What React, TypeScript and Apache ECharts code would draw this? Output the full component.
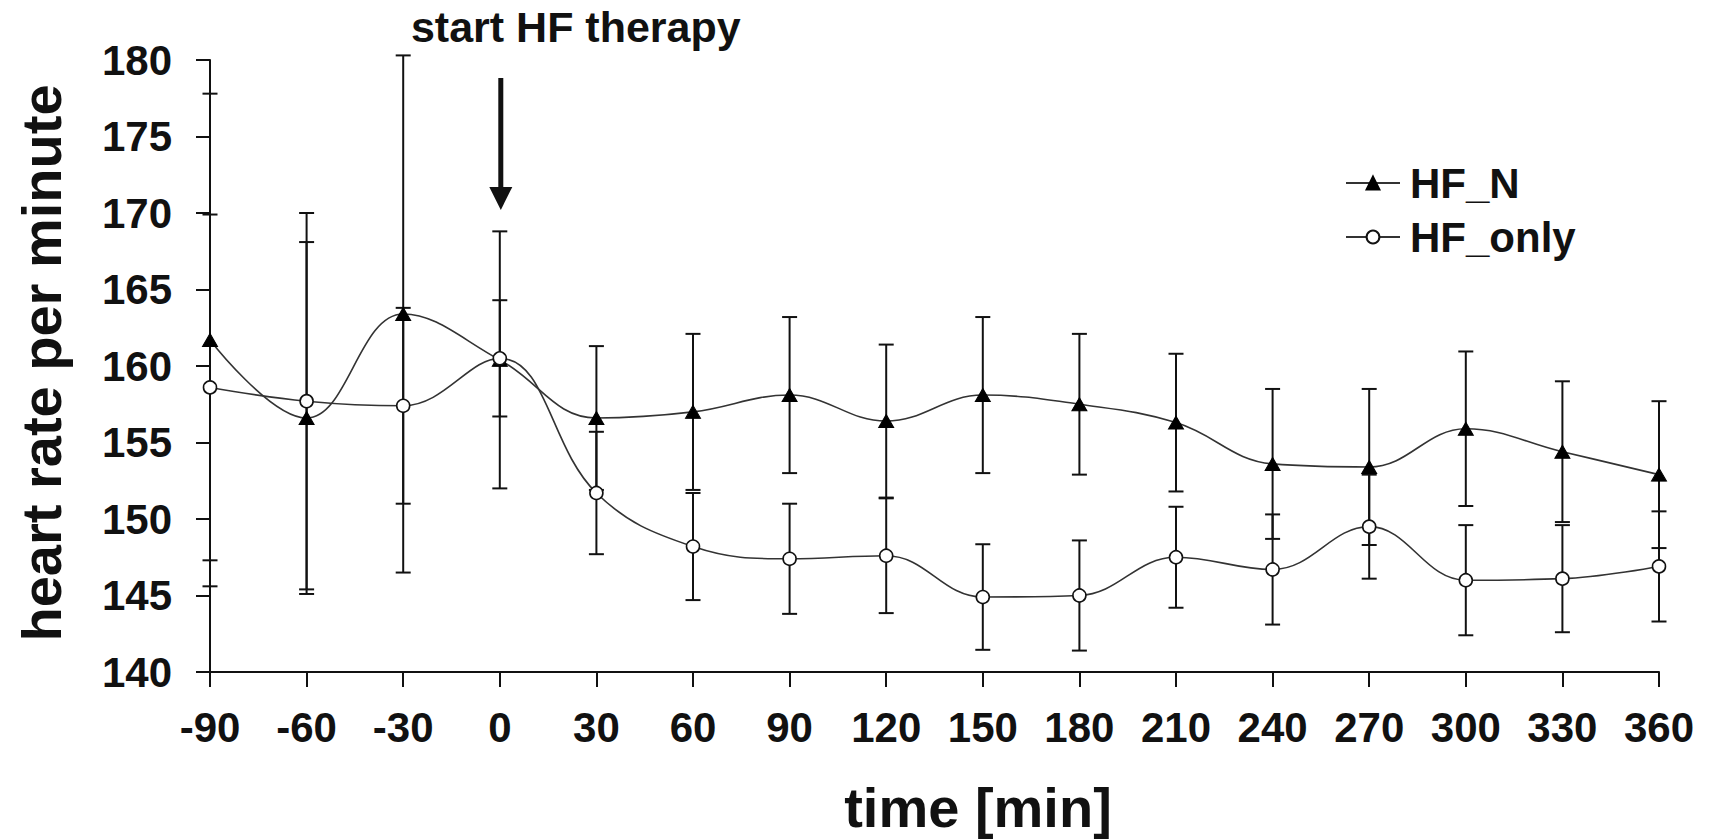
import React, { useEffect, useRef } from "react";
import * as echarts from "echarts";

const timeMin = [-90, -60, -30, 0, 30, 60, 90, 120, 150, 180, 210, 240, 270, 300, 330, 360];
const hfN = [161.7, 156.6, 163.4, 160.4, 156.6, 157.0, 158.1, 156.4, 158.1, 157.5, 156.3, 153.6, 153.4, 155.9, 154.4, 152.9];
const hfNErr = [16.1, 11.5, 16.9, 8.4, 4.7, 5.1, 5.1, 5.0, 5.1, 4.6, 4.5, 4.9, 5.1, 5.05, 4.6, 4.8];
const hfOnly = [158.6, 157.7, 157.4, 160.5, 151.7, 148.2, 147.4, 147.6, 144.9, 145.0, 147.5, 146.7, 149.5, 146.0, 146.1, 146.9];
const hfOnlyErr = [11.3, 12.3, 6.4, 3.8, 4.0, 3.5, 3.6, 3.75, 3.45, 3.6, 3.3, 3.6, 3.4, 3.6, 3.5, 3.6];
const seriesNames = ["HF_N", "HF_only"];
const xTitle = "time [min]";
const yTitle = "heart rate per minute";
const annotation = "start HF therapy";
const annotationTime = 0;

const FONT = '"Liberation Sans", Arial, Helvetica, sans-serif';
const INK = "#111";

function errorData(vals: number[], errs: number[]) {
  return timeMin.map((t, i) => [t, vals[i] - errs[i], vals[i] + errs[i]]);
}

function errorSeries(data: number[][]) {
  return {
    type: "custom",
    z: 1,
    silent: true,
    data,
    encode: { x: 0, y: [1, 2] },
    renderItem: (params: any, api: any) => {
      const x = api.value(0);
      const lo = api.coord([x, api.value(1)]);
      const hi = api.coord([x, api.value(2)]);
      const cap = 7.5;
      const style = { stroke: INK, lineWidth: 2 };
      return {
        type: "group",
        children: [
          { type: "line", shape: { x1: lo[0], y1: lo[1], x2: hi[0], y2: hi[1] }, style },
          { type: "line", shape: { x1: lo[0] - cap, y1: lo[1], x2: lo[0] + cap, y2: lo[1] }, style },
          { type: "line", shape: { x1: hi[0] - cap, y1: hi[1], x2: hi[0] + cap, y2: hi[1] }, style },
        ],
      };
    },
  };
}

export default function App() {
  const ref = useRef<HTMLDivElement>(null);
  useEffect(() => {
    if (!ref.current) return;
    const chart = echarts.init(ref.current, undefined, { renderer: "svg" });
    const axisLine = { onZero: false, lineStyle: { color: INK, width: 2 } };
    const axisTick = { lineStyle: { color: INK, width: 2 } };
    chart.setOption({
      animation: false,
      backgroundColor: "#fff",
      grid: { left: 210, right: 55, top: 60, bottom: 167 },
      legend: {
        data: seriesNames,
        orient: "vertical",
        left: 1340,
        top: 157,
        itemWidth: 54,
        itemHeight: 16,
        itemGap: 12,
        textStyle: { fontFamily: FONT, fontWeight: "bold", fontSize: 42, color: INK, lineHeight: 42, padding: [0, 0, 0, 5] },
      },
      xAxis: {
        type: "value",
        min: -90,
        max: 360,
        interval: 30,
        splitLine: { show: false },
        axisLine,
        axisTick: { ...axisTick, length: 15 },
        axisLabel: { margin: 34, fontFamily: FONT, fontWeight: "bold", fontSize: 42, color: INK },
      },
      yAxis: {
        type: "value",
        min: 140,
        max: 180,
        interval: 5,
        splitLine: { show: false },
        axisLine: { show: true, ...axisLine },
        axisTick: { show: true, ...axisTick, length: 14 },
        axisLabel: { margin: 38, fontFamily: FONT, fontWeight: "bold", fontSize: 42, color: INK },
      },
      series: [
        errorSeries(errorData(hfN, hfNErr)),
        errorSeries(errorData(hfOnly, hfOnlyErr)),
        {
          name: seriesNames[0],
          type: "line",
          z: 3,
          smooth: 0.4,
          data: timeMin.map((t, i) => [t, hfN[i]]),
          symbol: "triangle",
          symbolSize: [15, 13],
          itemStyle: { color: "#000", borderColor: "#000", borderWidth: 1 },
          lineStyle: { color: "#333", width: 1.6 },
        },
        {
          name: seriesNames[1],
          type: "line",
          z: 3,
          smooth: 0.4,
          data: timeMin.map((t, i) => [t, hfOnly[i]]),
          symbol: "circle",
          symbolSize: 13,
          itemStyle: { color: "#fff", borderColor: "#111", borderWidth: 1.6 },
          lineStyle: { color: "#333", width: 1.6 },
        },
      ],
    });
    const ax = chart.convertToPixel({ xAxisIndex: 0 }, annotationTime) as number;
    chart.setOption({
      graphic: [
        {
          type: "text",
          x: 978,
          y: 807,
          style: { text: xTitle, font: `bold 56px ${FONT}`, fill: INK, align: "center", verticalAlign: "middle" },
        },
        {
          type: "text",
          x: 41,
          y: 363,
          rotation: Math.PI / 2,
          style: { text: yTitle, font: `bold 56px ${FONT}`, fill: INK, align: "center", verticalAlign: "middle" },
        },
        {
          type: "text",
          x: ax + 76,
          y: 27,
          style: { text: annotation, font: `bold 43px ${FONT}`, fill: INK, align: "center", verticalAlign: "middle" },
        },
        {
          type: "line",
          shape: { x1: ax + 1, y1: 78, x2: ax + 1, y2: 192 },
          style: { stroke: "#111", lineWidth: 5 },
        },
        {
          type: "polygon",
          shape: { points: [[ax + 1 - 11.5, 187], [ax + 1 + 11.5, 187], [ax + 1, 210]] },
          style: { fill: "#111" },
        },
      ],
    });
    return () => chart.dispose();
  }, []);
  return <div ref={ref} style={{ position: "fixed", left: 0, top: 0, width: 1714, height: 839 }} />;
}
